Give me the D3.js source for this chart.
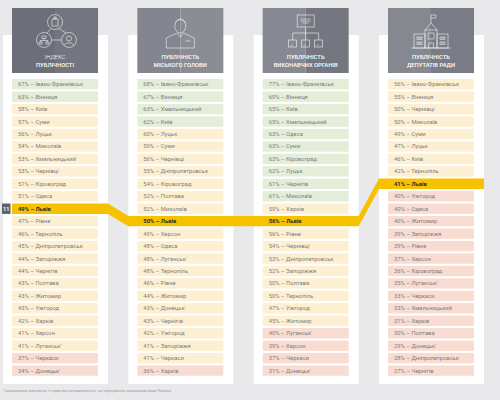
<!DOCTYPE html>
<html>
<head>
<meta charset="utf-8">
<script src="https://cdn.jsdelivr.net/npm/d3@7"></script>
<style>
  body { margin: 0; background: #e9e9eb; }
  svg { display: block; font-family: Roboto, "Noto Sans", sans-serif; }
</style>
</head>
<body>
<svg id="chart"></svg>
<script>
// Column titles (two lines each)
const titles = [
    ['ІНДЕКС', 'ПУБЛІЧНОСТІ'],
    ['ПУБЛІЧНІСТЬ', 'МІСЬКОГО ГОЛОВИ'],
    ['ПУБЛІЧНІСТЬ', 'ВИКОНАВЧИХ ОРГАНІВ'],
    ['ПУБЛІЧНІСТЬ', 'ДЕПУТАТІВ РАДИ']
];

// Ranked lists, one per column
const indexCities = ['Івано-Франківськ', 'Вінниця', 'Київ', 'Суми', 'Луцьк', 'Миколаїв', 'Хмельницький', 'Чернівці', 'Кіровоград', 'Одеса', 'Львів', 'Рівне', 'Тернопіль', 'Дніпропетровськ', 'Запоріжжя', 'Чернігів', 'Полтава', 'Житомир', 'Ужгород', 'Харків', 'Херсон', 'Луганськ\'', 'Черкаси', 'Донецьк\''];
const indexValues = [67, 63, 58, 57, 56, 54, 53, 53, 51, 51, 49, 47, 46, 45, 44, 44, 43, 43, 43, 42, 41, 41, 37, 34];

const mayorCities = ['Івано-Франківськ', 'Вінниця', 'Хмельницький', 'Київ', 'Луцьк', 'Суми', 'Чернівці', 'Дніпропетровськ', 'Кіровоград', 'Полтава', 'Миколаїв', 'Львів', 'Херсон', 'Одеса', 'Луганськ\'', 'Тернопіль', 'Рівне', 'Житомир', 'Донецьк\'', 'Чернігів', 'Ужгород', 'Запоріжжя', 'Черкаси', 'Харків'];
const mayorValues = [68, 67, 63, 62, 60, 59, 56, 55, 54, 52, 52, 50, 49, 48, 48, 48, 46, 44, 43, 43, 42, 41, 41, 36];

const execCities = ['Івано-Франківськ', 'Вінниця', 'Київ', 'Хмельницький', 'Одеса', 'Суми', 'Кіровоград', 'Луцьк', 'Чернігів', 'Миколаїв', 'Харків', 'Львів', 'Рівне', 'Чернівці', 'Дніпропетровськ', 'Запоріжжя', 'Полтава', 'Тернопіль', 'Ужгород', 'Житомир', 'Луганськ\'', 'Херсон', 'Черкаси', 'Донецьк\''];
const execValues = [77, 69, 65, 65, 63, 63, 63, 62, 61, 61, 59, 56, 56, 54, 53, 52, 50, 50, 47, 45, 40, 39, 37, 31];

const councilCities = ['Івано-Франківськ', 'Вінниця', 'Чернівці', 'Миколаїв', 'Суми', 'Луцьк', 'Київ', 'Тернопіль', 'Львів', 'Ужгород', 'Одеса', 'Житомир', 'Запоріжжя', 'Рівне', 'Херсон', 'Кіровоград', 'Луганськ\'', 'Черкаси', 'Хмельницький', 'Харків', 'Полтава', 'Донецьк\'', 'Дніпропетровськ', 'Чернігів'];
const councilValues = [56, 55, 50, 50, 49, 47, 46, 42, 41, 40, 40, 40, 39, 39, 37, 36, 35, 33, 33, 31, 30, 29, 28, 27];

const footnote = '*оцінювалися виключно ті практики впровадження, які передбачені законодавством України';
const highlight = 'Львів';

const width = 500, height = 400;
const svg = d3.select('#chart').attr('width', width).attr('height', height);

const columns = [
    {cities: indexCities, values: indexValues},
    {cities: mayorCities, values: mayorValues},
    {cities: execCities, values: execValues},
    {cities: councilCities, values: councilValues}
];

const x = d3.scaleBand()
    .domain(d3.range(columns.length))
    .range([12, 474])
    .paddingInner(0.3137);

const y = d3.scaleBand()
    .domain(d3.range(24))
    .range([79, 375.8])
    .paddingInner(0.165);

const cw = x.bandwidth();
const rh = y.bandwidth();

function cellColor(v) {
    if (v > 60) return '#e3edd7';
    if (v <= 40) return '#f9dcd1';
    return '#fdf0d2';
}

// Background
svg.append('rect').attr('width', width).attr('height', height).attr('fill', '#e9e9eb');

// White panels
svg.append('g').selectAll('rect')
    .data(columns)
    .join('rect')
    .attr('x', (d, i) => x(i) - 9)
    .attr('y', 35)
    .attr('width', cw + 19)
    .attr('height', 349)
    .attr('fill', '#fff');

// Headers
const head = svg.append('g').selectAll('g')
    .data(titles)
    .join('g')
    .attr('transform', (d, i) => `translate(${x(i)},8)`);

head.append('rect')
    .attr('width', cw / 2).attr('height', 65)
    .attr('fill', (d, i) => ['#6c6f79', '#84868f', '#878992', '#868890'][i]);
head.append('rect')
    .attr('x', cw / 2).attr('width', cw / 2).attr('height', 65)
    .attr('fill', (d, i) => ['#73767f', '#8b8d95', '#74777f', '#797c85'][i]);

head.append('text')
    .attr('x', cw / 2).attr('y', 51)
    .attr('text-anchor', 'middle')
    .attr('font-size', 5.8)
    .attr('font-weight', (d, i) => i === 0 ? 300 : 500)
    .attr('fill', '#fff')
    .text(d => d[0]);
head.append('text')
    .attr('x', cw / 2).attr('y', 58.5)
    .attr('text-anchor', 'middle')
    .attr('font-size', 5.8)
    .attr('font-weight', 500)
    .attr('fill', '#fff')
    .text(d => d[1]);

// Icons (simple line drawings)
const icon = head.append('g')
    .attr('fill', 'none')
    .attr('stroke', '#fff')
    .attr('stroke-width', 0.6)
    .attr('stroke-opacity', 0.9);

icon.each(function(d, i) {
    const g = d3.select(this);
    const cx = cw / 2;
    if (i === 0) {
        const c = [[cx + 10, 14], [cx - 1, 32], [cx + 24, 32]].map(p => [p[0] - 10, p[1]]);
        c.forEach(p => g.append('circle').attr('cx', p[0]).attr('cy', p[1]).attr('r', 7.5));
        g.append('line').attr('x1', c[0][0] - 4).attr('y1', c[0][1] + 6.5).attr('x2', c[1][0] + 3).attr('y2', c[1][1] - 7);
        g.append('line').attr('x1', c[0][0] + 4).attr('y1', c[0][1] + 6.5).attr('x2', c[2][0] - 3).attr('y2', c[2][1] - 7);
        g.append('line').attr('x1', c[1][0] + 7.5).attr('y1', c[1][1]).attr('x2', c[2][0] - 7.5).attr('y2', c[2][1]);
        // building in top circle
        g.append('rect').attr('x', c[0][0] - 3).attr('y', c[0][1] - 3).attr('width', 6).attr('height', 7);
        g.append('rect').attr('x', c[0][0] - 1).attr('y', c[0][1] - 5).attr('width', 2).attr('height', 2);
        // org chart in left circle
        g.append('rect').attr('x', c[1][0] - 2).attr('y', c[1][1] - 4).attr('width', 4).attr('height', 2.5);
        g.append('path').attr('d', `M${c[1][0]},${c[1][1] - 1.5}V${c[1][1] + 0.5}M${c[1][0] - 3.5},${c[1][1] + 2}V${c[1][1] + 0.5}H${c[1][0] + 3.5}V${c[1][1] + 2}`);
        g.append('rect').attr('x', c[1][0] - 5).attr('y', c[1][1] + 2).attr('width', 3).attr('height', 2);
        g.append('rect').attr('x', c[1][0] + 2).attr('y', c[1][1] + 2).attr('width', 3).attr('height', 2);
        // person in right circle
        g.append('circle').attr('cx', c[2][0]).attr('cy', c[2][1] - 1.5).attr('r', 2.5);
        g.append('path').attr('d', `M${c[2][0] - 5},${c[2][1] + 5}Q${c[2][0]},${c[2][1] + 0.5} ${c[2][0] + 5},${c[2][1] + 5}`);
    } else if (i === 1) {
        g.append('ellipse').attr('cx', cx).attr('cy', 18).attr('rx', 5.5).attr('ry', 7);
        g.append('path').attr('d', `M${cx - 5.5},15Q${cx},8 ${cx + 5.5},15`);
        g.append('path').attr('d', `M${cx - 3},25L${cx - 14},30V40H${cx + 14}V30L${cx + 3},25`);
        g.append('path').attr('d', `M${cx - 3},25L${cx},29L${cx + 3},25`);
        g.append('line').attr('x1', cx + 5).attr('y1', 33).attr('x2', cx + 10).attr('y2', 33);
    } else if (i === 2) {
        g.append('rect').attr('x', cx - 8.5).attr('y', 7).attr('width', 17).attr('height', 12);
        g.append('path').attr('d', `M${cx - 5},11H${cx + 5}M${cx - 5},13H${cx + 5}M${cx - 3},15H${cx + 3}`);
        g.append('path').attr('d', `M${cx},19V25M${cx - 13},32V25H${cx + 13}V32M${cx},25V32`);
        [-13, 0, 13].forEach(o => {
            g.append('rect').attr('x', cx + o - 4).attr('y', 32).attr('width', 8).attr('height', 7);
            g.append('path').attr('d', `M${cx + o - 2},37h2`);
        });
    } else {
        g.append('path').attr('d', `M${cx},7V15M${cx},7H${cx + 5}V10H${cx}`);
        g.append('path').attr('d', `M${cx - 6},22L${cx},15L${cx + 6},22`);
        g.append('rect').attr('x', cx - 6).attr('y', 22).attr('width', 12).attr('height', 18);
        g.append('rect').attr('x', cx - 17).attr('y', 26).attr('width', 11).attr('height', 14);
        g.append('rect').attr('x', cx + 6).attr('y', 26).attr('width', 11).attr('height', 14);
        g.append('rect').attr('x', cx - 3).attr('y', 25).attr('width', 6).attr('height', 6);
        g.append('path').attr('d', `M${cx - 2.5},40V35H${cx + 2.5}V40`);
        [-13, -10, 10, 13].forEach(o => {
            g.append('rect').attr('x', cx + o - 1).attr('y', 29).attr('width', 2).attr('height', 2.5);
            g.append('rect').attr('x', cx + o - 1).attr('y', 34).attr('width', 2).attr('height', 2.5);
        });
        g.append('line').attr('x1', cx - 20).attr('y1', 40).attr('x2', cx + 20).attr('y2', 40);
    }
});

// Cells
const rows = columns.map((col, ci) => col.cities.map((city, ri) => ({
    ci, ri, city, value: col.values[ri]
}))).flat();

const hiIdx = columns.map(col => col.cities.indexOf(highlight));

// Yellow highlight band linking the columns
const topPts = [];
const bottomPts = [];
columns.forEach((col, ci) => {
    const left = ci === 0 ? x(ci) : x(ci) - 9;
    const right = x(ci) + cw + 10;
    const top = y(hiIdx[ci]);
    const bot = top + rh;
    topPts.push([left, top], [right, top]);
    bottomPts.push([left, bot], [right, bot]);
});
const polyPts = topPts.concat(bottomPts.reverse());

svg.append('g').selectAll('rect')
    .data(rows.filter(d => d.city !== highlight))
    .join('rect')
    .attr('x', d => x(d.ci))
    .attr('y', d => y(d.ri))
    .attr('width', cw)
    .attr('height', rh)
    .attr('fill', d => cellColor(d.value));

svg.append('polygon')
    .attr('points', polyPts.map(p => p.join(',')).join(' '))
    .attr('fill', '#f6c200');

svg.append('g').selectAll('text')
    .data(rows)
    .join('text')
    .attr('x', d => x(d.ci) + 6)
    .attr('y', d => y(d.ri) + rh / 2 + 2)
    .attr('font-size', 5.8)
    .attr('font-weight', d => d.city === highlight ? 700 : 400)
    .attr('fill', d => d.city === highlight ? '#2b2b2b' : '#7d7d7d')
    .text(d => `${d.value}% – ${d.city}`);

// Rank badge for the first column
svg.append('rect')
    .attr('x', 2).attr('y', y(hiIdx[0]))
    .attr('width', 8.5).attr('height', rh)
    .attr('fill', '#5d616b');
svg.append('text')
    .attr('x', 6.25).attr('y', y(hiIdx[0]) + rh / 2 + 2)
    .attr('text-anchor', 'middle')
    .attr('font-size', 5.5)
    .attr('font-weight', 700)
    .attr('fill', '#fff')
    .text(hiIdx[0] + 1);

// Footnote
svg.append('text')
    .attr('x', 3).attr('y', 392)
    .attr('font-size', 3.8)
    .attr('fill', '#9a9a9a')
    .text(footnote);
</script>
</body>
</html>
